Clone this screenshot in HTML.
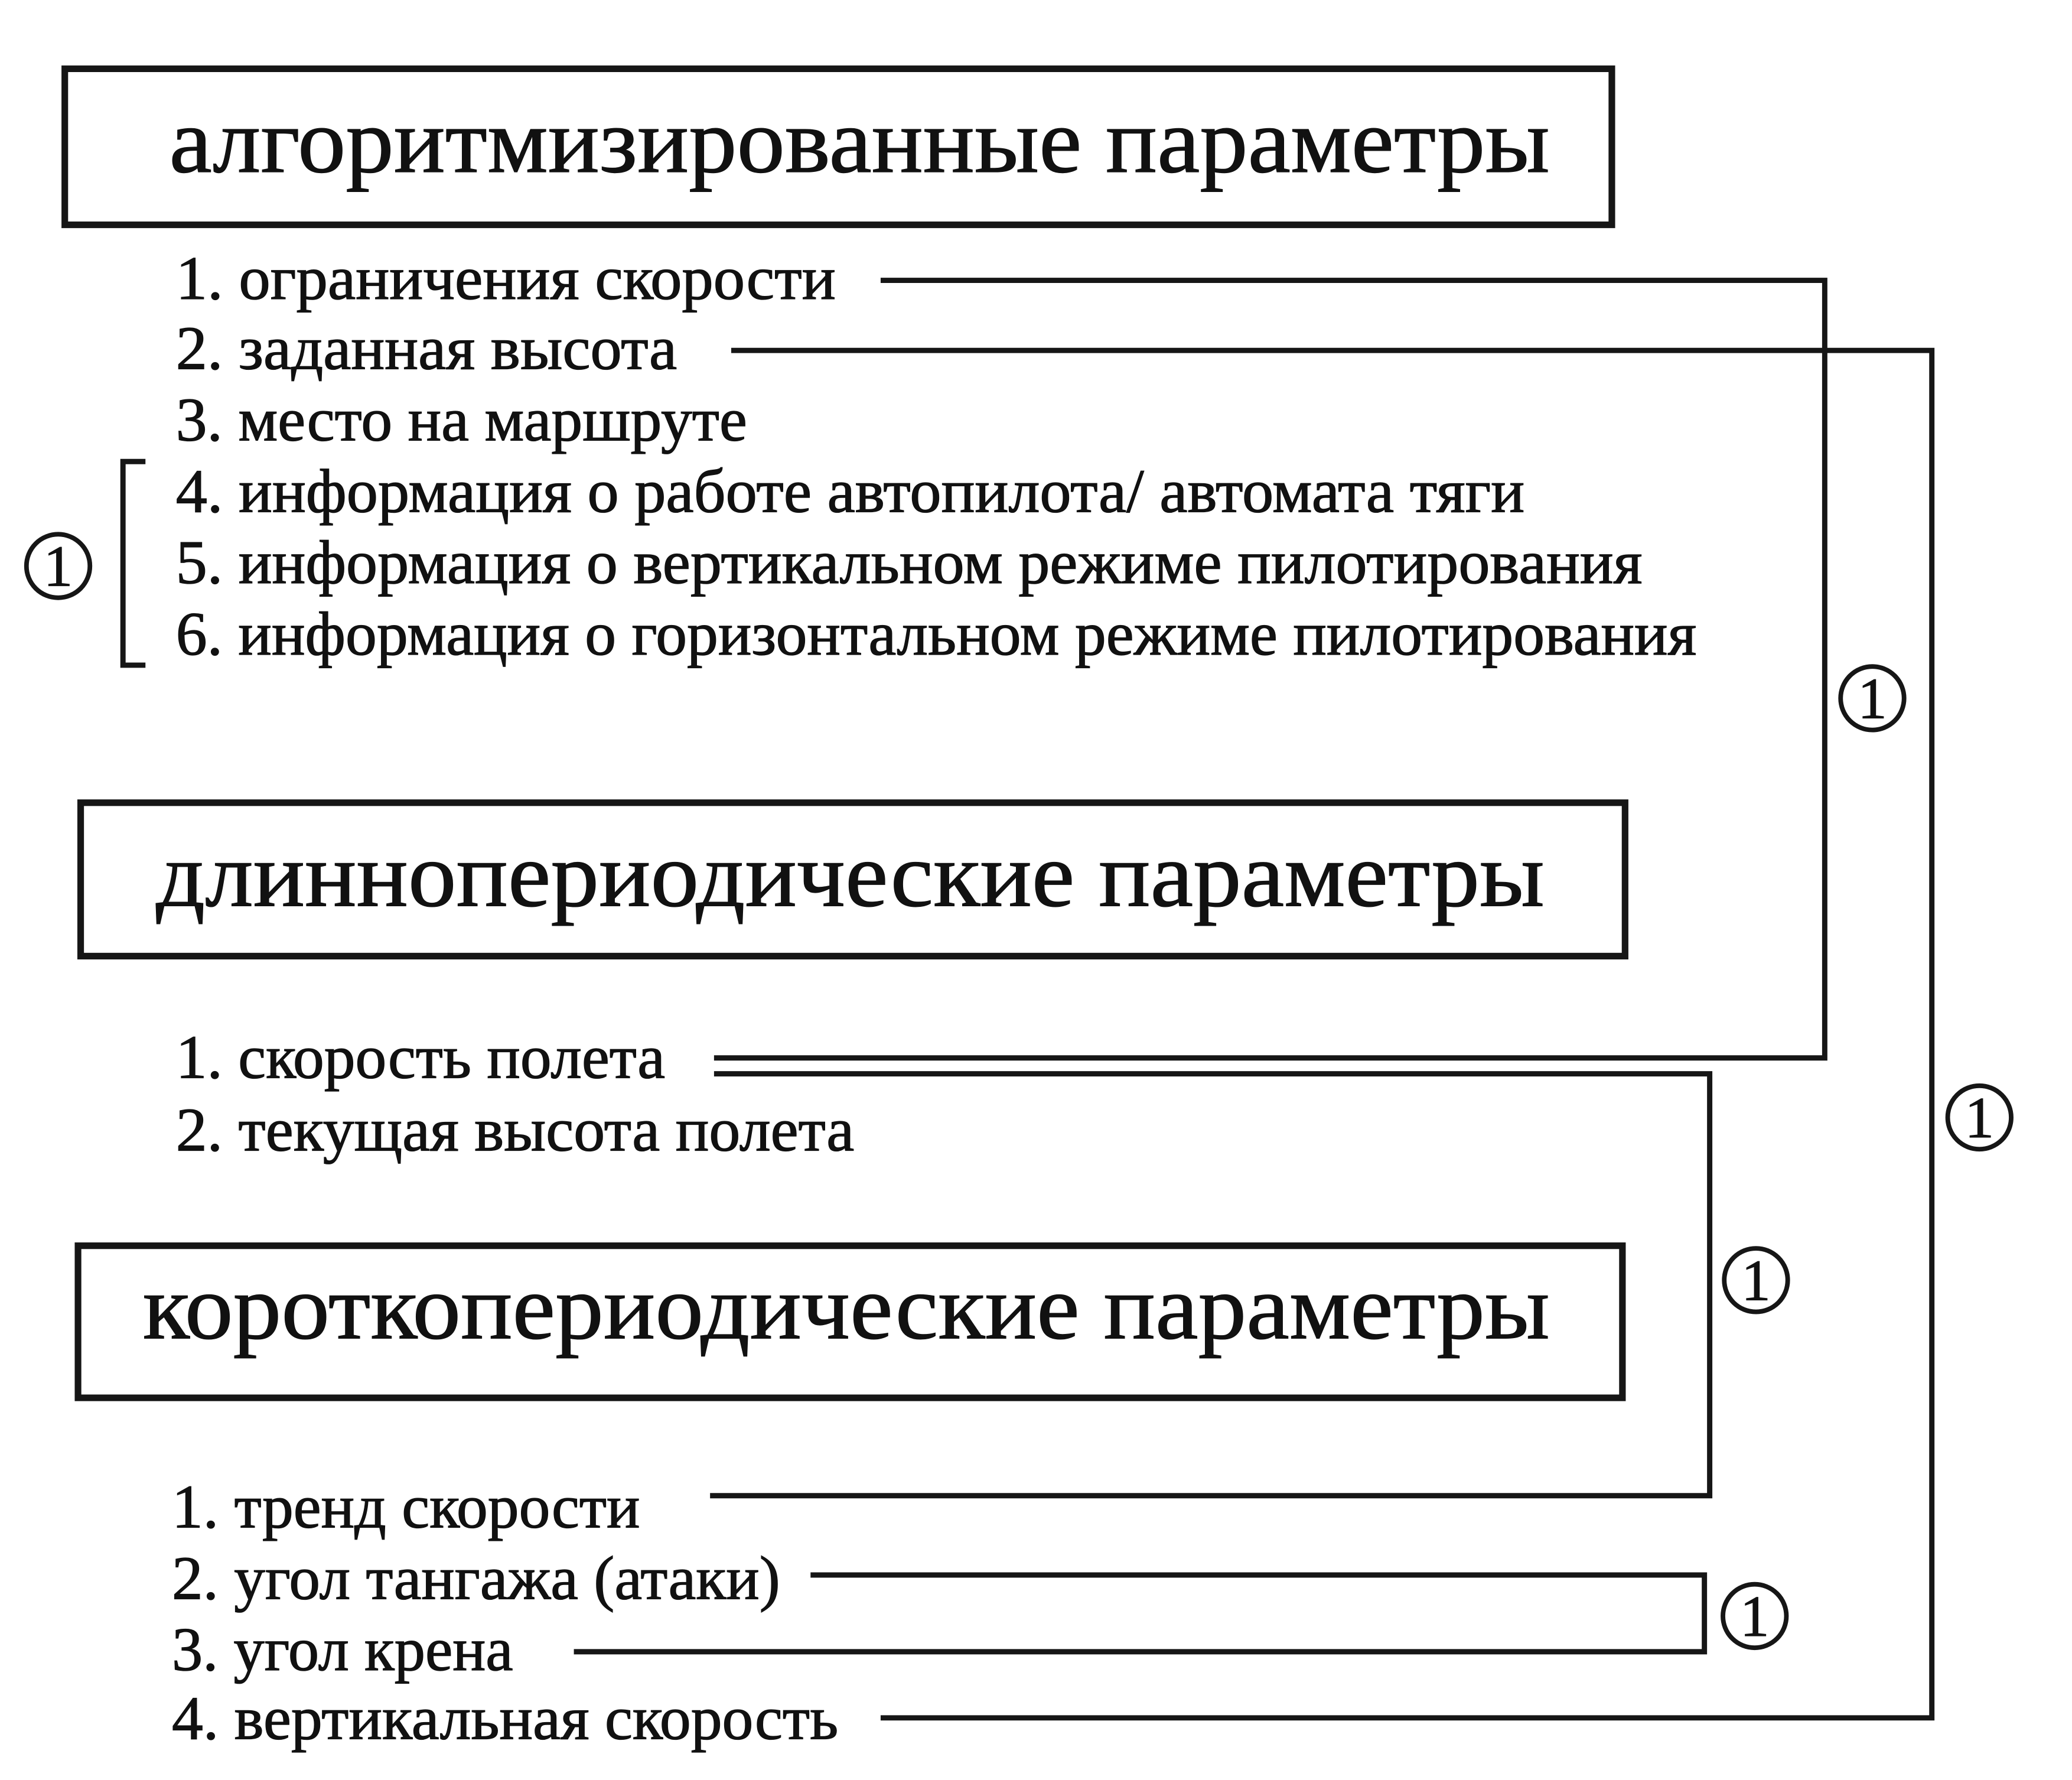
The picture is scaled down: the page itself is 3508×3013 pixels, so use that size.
<!DOCTYPE html>
<html><head><meta charset="utf-8"><style>html,body{margin:0;padding:0;background:#fff}svg{display:block}</style></head>
<body>
<svg width="3508" height="3013" viewBox="0 0 1567 1346" preserveAspectRatio="none" xmlns="http://www.w3.org/2000/svg">
<rect width="1567" height="1346" fill="#fff"/>
<g fill="none" stroke="#161616">
<rect x="49" y="52" width="1170" height="118" stroke-width="5"/>
<rect x="61" y="607" width="1168" height="116" stroke-width="5"/>
<rect x="59" y="942" width="1168" height="115" stroke-width="5"/>
<g stroke-width="4">
<polyline points="666,212 1380,212 1380,800 540,800"/>
<polyline points="553,265 1461,265 1461,1299 666,1299"/>
<polyline points="540,812 1293,812 1293,1131 537,1131"/>
<polyline points="613,1191 1289,1191 1289,1249 434,1249"/>
<polyline points="110,349 93,349 93,503 110,503"/>
</g>
<g stroke-width="3.5">
<circle cx="44" cy="428" r="24"/>
<circle cx="1416" cy="528" r="24"/>
<circle cx="1497" cy="845" r="24"/>
<circle cx="1328" cy="968" r="24"/>
<circle cx="1327" cy="1222" r="24"/>
</g>
</g>
<g font-family="'Liberation Serif','Noto Serif CJK SC',serif" fill="#111" stroke="#111" stroke-width="0.6">
<g font-size="70">
<text x="128" y="130" textLength="1044" lengthAdjust="spacingAndGlyphs">алгоритмизированные параметры</text>
<text x="118" y="685" textLength="1050" lengthAdjust="spacingAndGlyphs">длиннопериодические параметры</text>
<text x="108" y="1012" textLength="1064" lengthAdjust="spacingAndGlyphs">короткопериодические параметры</text>
</g>
<g font-size="47">
<text x="133" y="226" textLength="499" lengthAdjust="spacingAndGlyphs">1. ограничения скорости</text>
<text x="133" y="279" textLength="379" lengthAdjust="spacingAndGlyphs">2. заданная высота</text>
<text x="133" y="333" textLength="432" lengthAdjust="spacingAndGlyphs">3. место на маршруте</text>
<text x="133" y="387" textLength="1020" lengthAdjust="spacingAndGlyphs">4. информация о работе автопилота/ автомата тяги</text>
<text x="133" y="441" textLength="1109" lengthAdjust="spacingAndGlyphs">5. информация о вертикальном режиме пилотирования</text>
<text x="133" y="495" textLength="1150" lengthAdjust="spacingAndGlyphs">6. информация о горизонтальном режиме пилотирования</text>
<text x="133" y="815" textLength="370" lengthAdjust="spacingAndGlyphs">1. скорость полета</text>
<text x="133" y="870" textLength="513" lengthAdjust="spacingAndGlyphs">2. текущая высота полета</text>
<text x="130" y="1155" textLength="354" lengthAdjust="spacingAndGlyphs">1. тренд скорости</text>
<text x="130" y="1209" textLength="460" lengthAdjust="spacingAndGlyphs">2. угол тангажа (атаки)</text>
<text x="130" y="1263" textLength="258" lengthAdjust="spacingAndGlyphs">3. угол крена</text>
<text x="130" y="1315" textLength="504" lengthAdjust="spacingAndGlyphs">4. вертикальная скорость</text>
</g>
<g font-size="44" text-anchor="middle">
<text x="44" y="443">1</text>
<text x="1416" y="543">1</text>
<text x="1497" y="860">1</text>
<text x="1328" y="983">1</text>
<text x="1327" y="1237">1</text>
</g>
</g>
</svg>
</body></html>
